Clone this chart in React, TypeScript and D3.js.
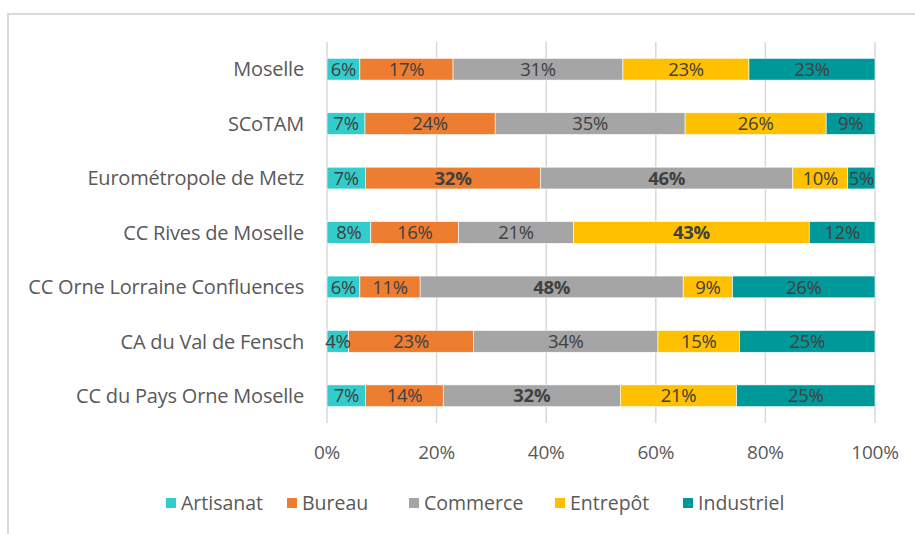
import React from "react";
import * as d3 from "d3";

const categories = [
  "Moselle",
  "SCoTAM",
  "Eurométropole de Metz",
  "CC Rives de Moselle",
  "CC Orne Lorraine Confluences",
  "CA du Val de Fensch",
  "CC du Pays Orne Moselle",
];
const seriesNames = ["Artisanat", "Bureau", "Commerce", "Entrepôt", "Industriel"];
const seriesColors = ["#33CCCC", "#ED7D31", "#A5A5A5", "#FFC000", "#009999"];
const artisanat = [6, 7, 7, 8, 6, 4, 7];
const bureau = [17, 24, 32, 16, 11, 23, 14];
const commerce = [31, 35, 46, 21, 48, 34, 32];
const entrepot = [23, 26, 10, 43, 9, 15, 21];
const industriel = [23, 9, 5, 12, 26, 25, 25];
// which labels are bold, per category then per series
const boldLabels = [
  [false, false, false, false, false],
  [false, false, false, false, false],
  [false, true, true, false, false],
  [false, false, false, true, false],
  [false, false, true, false, false],
  [false, false, false, false, false],
  [false, false, true, false, false],
];
const tickValues = [0, 0.2, 0.4, 0.6, 0.8, 1];

const W = 915;
const H = 534;
const FONT = "'Open Sans', sans-serif";

export default function App() {
  const seriesValues = [artisanat, bureau, commerce, entrepot, industriel];
  const x = d3.scaleLinear().domain([0, 1]).range([327, 875]);
  const y = d3
    .scaleBand<string>()
    .domain(categories)
    .range([42, 423])
    .paddingInner(0.6)
    .paddingOuter(0.3);

  const rows = categories.map((c, i) => {
    const vals = seriesValues.map((s) => s[i]);
    const total = d3.sum(vals);
    let acc = 0;
    return vals.map((v, j) => {
      const x0 = acc / total;
      acc += v;
      const x1 = acc / total;
      return { cat: c, v, x0, x1, j, bold: boldLabels[i][j] };
    });
  });

  const legendX = [166, 287, 409, 555, 683];

  return (
    <svg width={W} height={H} style={{ position: "absolute", left: 0, top: 0 }}>
      <rect x={0} y={0} width={W} height={H} fill="#fff" />
      {/* chart frame */}
      <path d={`M8,${H} V14 H${W}`} fill="none" stroke="#d9d9d9" strokeWidth={2} />
      {/* gridlines */}
      {tickValues.map((t) => (
        <line
          key={t}
          x1={x(t)}
          x2={x(t)}
          y1={42}
          y2={423}
          stroke="#d9d9d9"
          strokeWidth={1.5}
        />
      ))}
      {/* bars */}
      {rows.map((r) =>
        r.map((d) => (
          <rect
            key={d.cat + d.j}
            x={x(d.x0)}
            y={y(d.cat)}
            width={x(d.x1) - x(d.x0)}
            height={y.bandwidth()}
            fill={seriesColors[d.j]}
            stroke="#fff"
            strokeWidth={0.6}
          />
        ))
      )}
      {/* labels */}
      {rows.map((r) =>
        r.map((d) => (
          <text
            key={"l" + d.cat + d.j}
            x={(x(d.x0) + x(d.x1)) / 2}
            y={(y(d.cat) as number) + y.bandwidth() / 2}
            dy="0.36em"
            textAnchor="middle"
            fontFamily={FONT}
            fontSize={18.5}
            fontWeight={d.bold ? 700 : 400}
            fill="#404040"
            letterSpacing={-0.3}
          >
            {d.v}%
          </text>
        ))
      )}
      {/* category labels */}
      {categories.map((c) => (
        <text
          key={c}
          x={304}
          y={(y(c) as number) + y.bandwidth() / 2}
          dy="0.36em"
          textAnchor="end"
          fontFamily={FONT}
          fontSize={20}
          fill="#595959"
          letterSpacing={-0.2}
        >
          {c}
        </text>
      ))}
      {/* x tick labels */}
      {tickValues.map((t) => (
        <text
          key={"t" + t}
          x={x(t)}
          y={452}
          dy="0.36em"
          textAnchor="middle"
          fontFamily={FONT}
          fontSize={19}
          fill="#595959"
          letterSpacing={-0.2}
        >
          {d3.format(".0%")(t)}
        </text>
      ))}
      {/* legend */}
      {seriesNames.map((s, i) => (
        <g key={s} transform={`translate(${legendX[i]},503)`}>
          <rect x={0} y={-5} width={10} height={10} fill={seriesColors[i]} />
          <text
            x={15}
            y={0}
            dy="0.36em"
            fontFamily={FONT}
            fontSize={19.5}
            fill="#595959"
          >
            {s}
          </text>
        </g>
      ))}
    </svg>
  );
}
